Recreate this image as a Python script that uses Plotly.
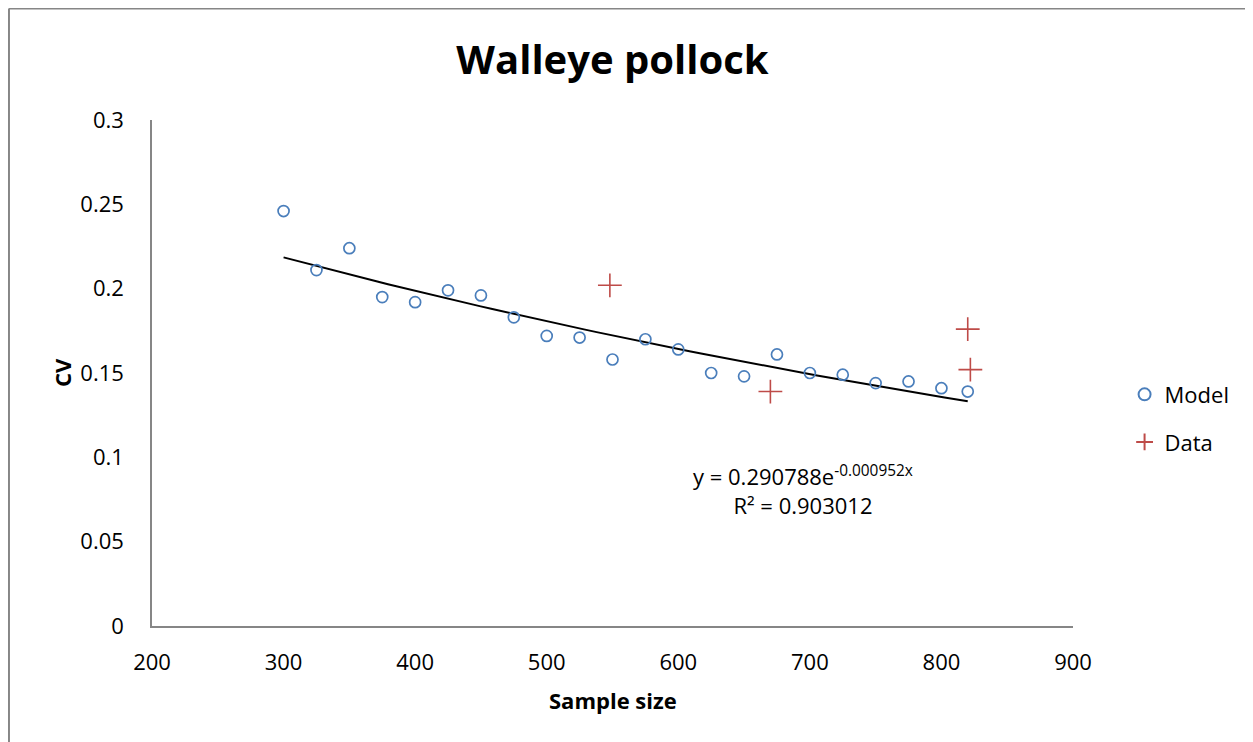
import numpy as np
import plotly.graph_objects as go

model_x = [300, 325, 350, 375, 400, 425, 450, 475, 500, 525, 550, 575, 600, 625, 650, 675, 700, 725, 750, 775, 800, 820]
model_y = [0.246, 0.211, 0.224, 0.195, 0.192, 0.199, 0.196, 0.183, 0.172, 0.171, 0.158, 0.170, 0.164, 0.150, 0.148, 0.161, 0.150, 0.149, 0.144, 0.145, 0.141, 0.139]
data_x = [548, 670, 820, 822]
data_y = [0.202, 0.139, 0.176, 0.152]

y_tickvals = [0, 0.05, 0.1, 0.15, 0.2, 0.25, 0.3]
y_ticktext = ["0", "0.05", "0.1", "0.15", "0.2", "0.25", "0.3"]
x_tickvals = [200, 300, 400, 500, 600, 700, 800, 900]

# Excel exponential trendline coefficients (as printed on chart)
trend_a = 0.290788
trend_b = -0.000952
trend_x = np.linspace(min(model_x), max(model_x), 60)
trend_y = trend_a * np.exp(trend_b * trend_x)

FONT = "Open Sans"
fig = go.Figure()
fig.add_trace(go.Scatter(x=trend_x, y=trend_y, mode="lines", line=dict(color="black", width=2),
                         showlegend=False, hoverinfo="skip"))
fig.add_trace(go.Scatter(x=model_x, y=model_y, mode="markers", name="Model", legendgroup="m",
                         marker=dict(symbol="circle-open", size=11, color="#4a7ebb", line=dict(width=1.7))))
fig.add_trace(go.Scatter(x=data_x, y=data_y, mode="markers", name="Data", legendgroup="d",
                         marker=dict(symbol="cross-thin-open", size=17, color="#be4b48",
                                     line=dict(width=1.6, color="#be4b48"))))

fig.update_layout(
    width=1245, height=734,
    margin=dict(l=144, r=180, t=112, b=116),
    paper_bgcolor="white", plot_bgcolor="white",
    font=dict(family=FONT, size=22, color="black"),
    title=dict(text="<b>Walleye pollock</b>", x=0.5, xanchor="center", xref="paper",
               y=0.929, yanchor="middle", font=dict(size=40, family=FONT, color="black")),
    xaxis=dict(range=[200, 900], tickvals=x_tickvals, showgrid=False, zeroline=False, showline=True,
               linecolor="#868686", linewidth=1.5, ticks="", ticklabelstandoff=16,
               tickfont=dict(size=22)),
    yaxis=dict(range=[0, 0.3], tickvals=y_tickvals, ticktext=y_ticktext, showgrid=False,
               zeroline=False, showline=True, linecolor="#868686", linewidth=1.5, ticks="",
               ticklabelstandoff=22, tickfont=dict(size=22)),
    legend=dict(x=1.056, y=0.41, xanchor="left", yanchor="middle", font=dict(size=22),
                traceorder="grouped", tracegroupgap=16, itemsizing="constant"),
    annotations=[
        dict(x=0.5, y=-0.146, xref="paper", yref="paper", showarrow=False,
             text="<b>Sample size</b>", font=dict(size=22, family=FONT),
             xanchor="center", yanchor="middle"),
        dict(x=-0.0977, y=0.5, xref="paper", yref="paper", showarrow=False,
             text="<b>CV</b>", textangle=-90, font=dict(size=22, family=FONT),
             xanchor="center", yanchor="middle"),
        dict(x=0.707, y=0.269, xref="paper", yref="paper", showarrow=False,
             text="y = 0.290788e<sup>-0.000952x</sup><br>R² = 0.903012",
             font=dict(size=22, family=FONT), align="center",
             xanchor="center", yanchor="middle"),
    ],
    shapes=[
        dict(type="line", xref="paper", yref="paper", x0=-0.1553, x1=-0.1553, y0=-0.3, y1=1.2204,
             line=dict(color="#868686", width=2)),
        dict(type="line", xref="paper", yref="paper", x0=-0.1553, x1=1.25, y0=1.2204, y1=1.2204,
             line=dict(color="#868686", width=2)),
    ],
)
fig.write_html("out.html")
